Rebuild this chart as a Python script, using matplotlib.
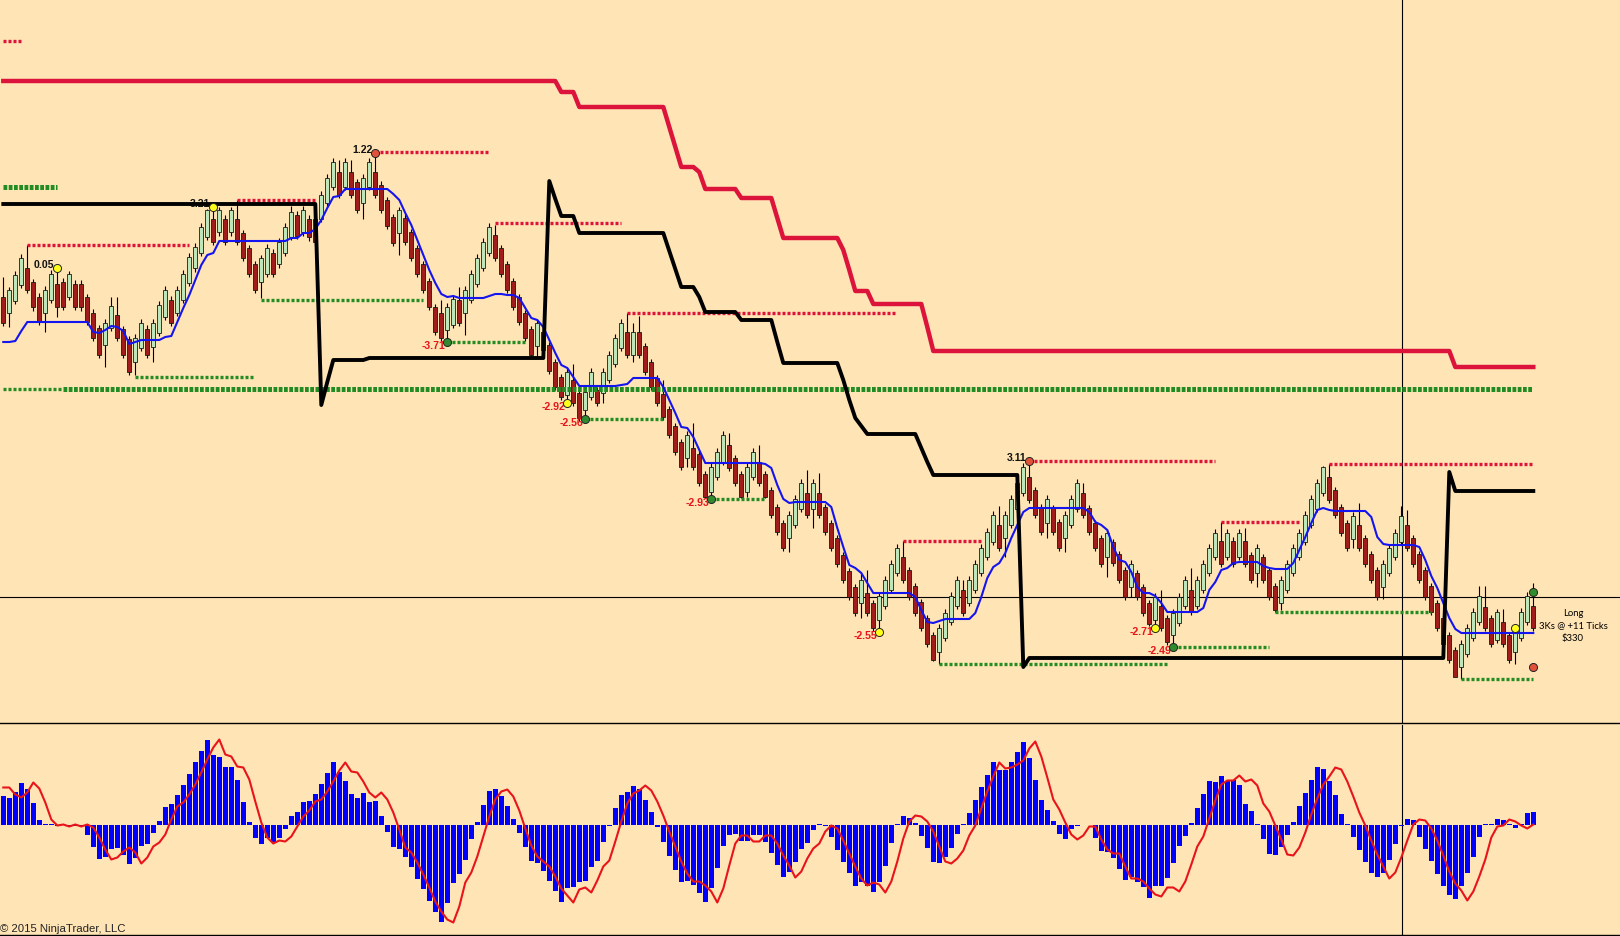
import numpy as np
import matplotlib
matplotlib.use('Agg')
import matplotlib.pyplot as plt

# price panel values are read straight off the chart, y grows downward
opens = [
    297, 313, 301, 285, 268, 282, 297, 313, 300, 284, 282, 297, 284, 284, 297, 313,
    328, 345, 328, 315, 329, 339, 362, 348, 329, 347, 333, 317, 300, 313, 300, 283,
    268, 253, 237, 219, 232, 219, 232, 219, 233, 248, 264, 282, 274, 253, 264, 253,
    237, 215, 232, 219, 219, 219, 203, 187, 172, 187, 172, 182, 203, 187, 172, 185,
    200, 217, 233, 218, 232, 248, 264, 281, 307, 313, 330, 325, 300, 313, 300, 284,
    268, 253, 235, 248, 264, 281, 297, 313, 329, 346, 332, 345, 362, 377, 395, 380,
    393, 410, 397, 390, 393, 380, 364, 348, 332, 355, 332, 346, 362, 378, 394, 409,
    426, 442, 458, 448, 454, 474, 492, 477, 462, 445, 458, 474, 492, 477, 462, 474,
    490, 507, 523, 538, 525, 509, 493, 509, 493, 507, 523, 538, 555, 571, 587, 603,
    593, 603, 620, 606, 590, 573, 557, 570, 586, 602, 618, 635, 652, 638, 622, 606,
    590, 603, 590, 573, 557, 542, 525, 538, 525, 509, 493, 477, 490, 507, 523, 508,
    522, 538, 525, 509, 493, 508, 523, 538, 557, 542, 554, 570, 587, 573, 587, 603,
    620, 606, 618, 635, 623, 606, 590, 606, 590, 573, 557, 541, 557, 541, 557, 541,
    555, 573, 557, 570, 586, 603, 590, 573, 557, 542, 525, 509, 493, 477, 490, 507,
    523, 539, 525, 538, 554, 570, 587, 573, 557, 542, 525, 538, 554, 570, 586, 603,
    618, 635, 650, 667, 654, 638, 622, 607, 618, 640, 622, 635, 652, 638, 622, 606,
]
highs = [
    277, 287, 271, 254, 245, 279, 293, 286, 270, 268, 278, 271, 280, 280, 294, 309,
    325, 319, 297, 297, 326, 336, 334, 319, 325, 319, 301, 286, 296, 286, 270, 253,
    243, 223, 209, 207, 207, 215, 207, 200, 230, 245, 261, 255, 244, 249, 238, 223,
    206, 211, 206, 215, 215, 191, 174, 158, 160, 158, 160, 179, 174, 158, 153, 181,
    197, 214, 207, 214, 229, 245, 261, 278, 304, 300, 303, 295, 287, 286, 270, 254,
    238, 223, 225, 245, 261, 278, 294, 310, 326, 319, 328, 342, 359, 374, 368, 364,
    390, 388, 368, 387, 368, 351, 334, 319, 313, 323, 316, 343, 359, 375, 380, 406,
    423, 439, 431, 423, 451, 471, 463, 448, 431, 433, 455, 471, 463, 448, 445, 471,
    487, 504, 520, 511, 495, 479, 470, 479, 473, 504, 520, 535, 552, 568, 584, 573,
    570, 600, 592, 576, 560, 544, 541, 567, 583, 599, 615, 632, 624, 609, 592, 576,
    580, 576, 560, 544, 528, 511, 506, 511, 495, 479, 463, 461, 487, 504, 495, 505,
    519, 511, 495, 479, 483, 505, 520, 535, 529, 539, 551, 567, 560, 570, 584, 600,
    593, 590, 615, 609, 593, 576, 568, 576, 560, 544, 529, 522, 529, 537, 529, 528,
    552, 544, 554, 567, 583, 576, 560, 544, 529, 511, 495, 479, 466, 464, 487, 504,
    520, 512, 503, 535, 551, 567, 560, 544, 529, 506, 510, 535, 551, 567, 583, 600,
    615, 632, 647, 640, 624, 608, 586, 586, 615, 609, 609, 632, 624, 608, 592, 583,
]
lows = [
    326, 327, 304, 288, 293, 311, 325, 332, 303, 317, 310, 300, 310, 311, 325, 341,
    358, 367, 331, 341, 358, 375, 375, 351, 358, 362, 336, 320, 326, 316, 303, 286,
    272, 256, 240, 245, 236, 245, 236, 245, 261, 277, 293, 298, 277, 277, 268, 256,
    240, 239, 236, 241, 246, 222, 206, 190, 198, 190, 198, 213, 219, 190, 198, 213,
    229, 246, 255, 245, 261, 277, 293, 310, 335, 341, 342, 328, 326, 335, 303, 287,
    271, 256, 261, 277, 293, 310, 325, 341, 358, 356, 353, 374, 390, 400, 403, 406,
    421, 419, 400, 406, 403, 383, 367, 351, 358, 362, 358, 375, 390, 406, 420, 438,
    455, 470, 467, 470, 486, 498, 499, 480, 465, 471, 486, 498, 497, 480, 486, 498,
    518, 535, 551, 552, 528, 512, 518, 528, 518, 535, 551, 567, 583, 600, 616, 618,
    616, 631, 632, 609, 593, 576, 583, 600, 616, 631, 647, 661, 664, 641, 625, 609,
    616, 606, 593, 576, 560, 545, 551, 557, 528, 512, 496, 503, 518, 535, 538, 535,
    551, 552, 528, 512, 518, 535, 551, 567, 577, 566, 583, 600, 597, 600, 616, 626,
    628, 631, 645, 647, 626, 609, 615, 609, 593, 576, 560, 567, 560, 567, 560, 567,
    583, 587, 583, 600, 612, 610, 593, 576, 560, 545, 528, 512, 496, 503, 518, 536,
    551, 548, 551, 567, 583, 600, 599, 576, 560, 545, 551, 567, 583, 600, 615, 631,
    647, 663, 676, 679, 657, 641, 625, 631, 647, 643, 647, 663, 664, 641, 625, 631,
]
closes = [
    323, 290, 275, 258, 290, 307, 322, 290, 274, 307, 307, 274, 307, 307, 322, 338,
    355, 323, 306, 338, 355, 372, 338, 323, 355, 323, 305, 290, 323, 290, 274, 257,
    247, 227, 210, 242, 210, 242, 210, 242, 258, 274, 290, 258, 248, 274, 242, 227,
    212, 236, 210, 237, 242, 195, 178, 162, 195, 162, 195, 210, 178, 162, 195, 210,
    226, 243, 210, 242, 258, 274, 290, 307, 332, 338, 307, 299, 323, 290, 274, 258,
    242, 227, 258, 274, 290, 307, 322, 338, 355, 323, 350, 371, 387, 397, 372, 403,
    418, 392, 372, 403, 372, 355, 338, 323, 355, 332, 355, 372, 387, 403, 417, 435,
    452, 467, 435, 467, 483, 497, 467, 452, 435, 468, 483, 497, 467, 452, 483, 497,
    515, 532, 548, 515, 499, 483, 515, 483, 515, 532, 548, 564, 580, 597, 613, 580,
    613, 628, 596, 580, 564, 548, 580, 597, 613, 628, 644, 660, 628, 613, 596, 580,
    613, 580, 564, 548, 532, 515, 548, 515, 499, 483, 467, 500, 515, 532, 499, 532,
    548, 515, 499, 483, 515, 532, 548, 564, 533, 563, 580, 597, 564, 597, 613, 624,
    597, 628, 642, 613, 597, 580, 612, 580, 564, 548, 533, 564, 533, 564, 533, 564,
    580, 548, 580, 597, 610, 580, 564, 548, 533, 515, 499, 483, 467, 500, 515, 533,
    548, 516, 548, 564, 580, 597, 564, 548, 533, 516, 548, 564, 580, 597, 612, 628,
    644, 660, 677, 644, 628, 612, 596, 628, 644, 612, 644, 660, 628, 612, 596, 628,
]

# blue moving average
avg_line = [
    342, 342, 341, 331, 322, 322, 322, 322, 322, 322, 322, 322, 322, 322, 322, 332,
    333, 330, 326, 327, 331, 344, 342, 340, 340, 340, 340, 337, 336, 322, 308, 295,
    280, 265, 255, 253, 241, 241, 241, 241, 241, 241, 241, 241, 241, 241, 241, 241,
    238, 238, 233, 233, 229, 220, 208, 197, 196, 189, 189, 189, 189, 189, 189, 189,
    189, 194, 200, 213, 225, 240, 255, 270, 283, 294, 297, 296, 298, 298, 298, 298,
    298, 296, 294, 294, 295, 295, 298, 308, 318, 320, 327, 340, 353, 365, 368, 377,
    386, 386, 386, 386, 386, 386, 386, 385, 384, 378, 378, 378, 378, 378, 387, 400,
    413, 427, 428, 437, 450, 463, 463, 463, 463, 463, 463, 463, 463, 463, 463, 464,
    468, 485, 499, 503, 502, 502, 502, 502, 502, 502, 507, 528, 547, 565, 568, 573,
    583, 593, 593, 593, 593, 593, 593, 593, 597, 610, 622, 623, 621, 619, 619, 619,
    619, 619, 613, 597, 578, 567, 563, 553, 538, 525, 512, 508, 508, 508, 508, 508,
    508, 508, 508, 508, 508, 512, 522, 525, 530, 547, 560, 562, 572, 587, 593, 593,
    596, 603, 612, 612, 612, 612, 612, 612, 608, 590, 582, 570, 568, 563, 562, 562,
    562, 562, 566, 568, 569, 569, 569, 563, 550, 537, 523, 510, 508, 510, 511, 511,
    511, 511, 511, 511, 517, 537, 544, 545, 545, 545, 545, 545, 547, 560, 576, 588,
    603, 618, 629, 633, 633, 633, 633, 633, 633, 633, 633, 633, 633, 633, 633, 633,
]

# black trailing stop and red outer stop, one value per bar
stop_black = ([204] * 53 + [405, 382] + [360] * 6 + [358] * 30
              + [181, 199] + [216] * 3 + [233] * 15 + [251, 269] + [287] * 3
              + [297] + [312] * 6 + [320] * 6 + [342] + [363] * 10
              + [380, 400, 418, 426] + [434] * 9 + [448, 462] + [475] * 15
              + [667] + [658] * 70 + [472] + [491] * 14)
stop_red = ([81] * 93 + [92] * 3 + [107] * 15 + [127, 147] + [167] * 3
            + [172] + [189] * 6 + [198] * 6 + [218] + [238] * 10 + [250, 270]
            + [291] * 3 + [304] * 9 + [327] + [351] * 87 + [367] * 14)

# swing levels: (first bar, last bar, level)
high_levels = [(0, 3, 41), (4, 31, 245), (39, 52, 200), (62, 81, 152),
               (82, 103, 223), (104, 149, 313), (150, 163, 541),
               (171, 202, 461), (203, 216, 522), (221, 255, 464)]
low_levels = [(22, 42, 377), (43, 70, 300), (74, 87, 342), (97, 110, 419),
              (118, 127, 499), (156, 194, 664), (195, 211, 647),
              (212, 238, 612), (243, 255, 679), (0, 10, 389)]
low_levels_thick = [(0, 9, 187), (10, 255, 389)]

# pivot markers
pivot_idx = [9, 35, 62, 74, 94, 97, 118, 146, 171, 192, 195]
pivot_y = [268, 207, 153, 342, 403, 419, 499, 632, 461, 628, 647]
pivot_text = ['0.05', '3.21', '1.22', '-3.71', '-2.92', '-2.56', '-2.93',
              '-2.55', '3.11', '-2.71', '-2.49']
pivot_kind = ['y', 'y', 'r', 'g', 'y', 'g', 'g', 'y', 'r', 'y', 'g']
extra_idx = [252, 255, 255]
extra_y = [628, 592, 667]
extra_kind = ['y', 'g', 'r']

# lower panel: histogram and signal
hist = [
    29, 27, 33, 42, 36, 22, 5, 0.5, 0.5, -1, -0.3, -1.5, -1, -1.5, -10, -22,
    -34, -32, -24, -23, -30, -39, -33, -21, -19, -8, 4, 18, 21, 30, 40, 51,
    63, 74, 85, 70, 68, 58, 58, 45, 23, 3, -13, -19, -13, -17, -13, -4,
    9, 13, 23, 24, 31, 41, 52, 63, 53, 44, 31, 27, 32, 23, 24, 9,
    -7, -22, -24, -32, -42, -54, -64, -76, -87, -97, -78, -58, -49, -35, -14, 3,
    20, 34, 36, 29, 19, 6, -8, -22, -36, -38, -46, -56, -66, -77, -63, -62,
    -57, -56, -42, -36, -17, -1, 17, 30, 33, 39, 36, 25, 13, -2, -17, -31,
    -45, -57, -56, -60, -68, -77, -63, -43, -21, -10, -9, -16, -16, -10, -10, -17,
    -28, -40, -52, -47, -37, -24, -18, -5, 0.5, -1, -12, -25, -37, -48, -61, -57,
    -61, -67, -57, -41, -18, 0.5, 9, 7, 2, -11, -23, -37, -38, -32, -23, -9,
    0.5, 12, 25, 38, 50, 63, 55, 55, 63, 73, 83, 67, 45, 25, 15, 4,
    -9, -14, -4, -1, -0.5, -0.5, -13, -26, -27, -33, -44, -55, -52, -57, -62, -73,
    -61, -61, -53, -38, -21, -11, 2, 17, 31, 44, 43, 49, 44, 45, 40, 21,
    14, 0.5, -14, -29, -30, -22, -10, 3, 19, 32, 45, 58, 56, 44, 30, 11,
    0.5, -12, -25, -37, -48, -52, -48, -35, -19, -1, 6, 5, -12, -24, -36, -49,
    -61, -70, -74, -61, -48, -32, -12, 0.3, 0.3, 6, 5, 1, -3, 1, 12, 13,
]
signal = [
    37, 37, 30, 27, 32, 42, 36, 22, 5, -1, 0, -2, 0, -2, 0, -3,
    -13, -25, -35, -33, -27, -23, -28, -39, -33, -22, -18, -10, 5, 18, 22, 30,
    40, 52, 65, 77, 85, 70, 68, 58, 57, 45, 23, 2, -13, -19, -16, -17,
    -12, -2, 8, 14, 23, 25, 33, 43, 54, 62, 53, 52, 43, 32, 27, 32,
    25, 12, -5, -23, -28, -38, -50, -63, -77, -87, -95, -98, -82, -58, -48, -32,
    -12, 8, 25, 33, 35, 28, 14, -4, -21, -32, -37, -42, -52, -64, -71, -78,
    -65, -63, -68, -56, -42, -36, -17, 3, 21, 31, 34, 39, 34, 23, 9, -7,
    -22, -37, -49, -57, -57, -61, -67, -78, -64, -41, -19, -11, -11, -17, -17, -11,
    -11, -19, -31, -41, -53, -47, -34, -24, -19, -7, -1, -4, -16, -29, -42, -54,
    -61, -58, -60, -68, -57, -37, -14, 3, 9, 8, 3, -7, -22, -37, -39, -34,
    -26, -11, -1, 16, 33, 48, 62, 56, 57, 60, 64, 76, 83, 68, 47, 25,
    15, 2, -10, -15, -11, -2, -2, -15, -25, -29, -29, -42, -54, -54, -57, -64,
    -70, -72, -63, -63, -67, -57, -40, -22, -12, 6, 24, 40, 44, 44, 49, 43,
    45, 39, 21, 13, -1, -15, -30, -31, -23, -8, 10, 26, 40, 48, 57, 55,
    43, 28, 12, -1, -16, -30, -42, -54, -48, -33, -16, 0, 5, 4, -4, -16,
    -31, -47, -59, -66, -76, -67, -52, -35, -13, -2, -1, 5, 3, -1, -4, 0,
]

cross_bar = 233.1
cross_level = 597
trade_text = ['Long', '3Ks @ +11 Ticks', '$330']

BG = '#FFE4B5'
BULL = '#BDE6BD'
BEAR = '#A11D1D'
RED = '#DC143C'
GREEN = '#228B22'
DOT = {'y': '#FFFF1A', 'g': '#2E8B2E', 'r': '#E0533A'}

o = np.array(opens, float)
h = np.array(highs, float)
l = np.array(lows, float)
c = np.array(closes, float)
x = np.arange(len(o))

fig = plt.figure(figsize=(16.2, 9.36), dpi=100, facecolor=BG)
ax = fig.add_axes([0, 213 / 936, 1, 723 / 936], facecolor=BG)
ax2 = fig.add_axes([0, 1 / 936, 1, 210 / 936], facecolor=BG)

for a in (ax, ax2):
    a.set_xlim(-0.55, 269.45)
    a.set_xticks([])
    a.set_yticks([])
    for s in ('top', 'left', 'right'):
        a.spines[s].set_visible(False)
    a.spines['bottom'].set_linewidth(1.0)
    a.spines['bottom'].set_color('black')
ax.set_ylim(723, 0)
ax2.set_ylim(-110.5, 99.5)

# crosshair
ax.axhline(cross_level, color='black', lw=0.8, zorder=1)
ax.axvline(cross_bar, color='black', lw=0.8, zorder=1)
ax2.axvline(cross_bar, color='black', lw=0.8, zorder=1)

# candles
bull = c < o
ax.vlines(x, h, l, color='black', lw=0.8, zorder=2)
ax.bar(x, np.abs(c - o), bottom=np.minimum(o, c), width=0.64,
       color=np.where(bull, BULL, BEAR), edgecolor='#1a1a1a',
       linewidth=0.6, zorder=2.5)

# swing levels
for s, e, lv in high_levels:
    ax.plot([s, e], [lv, lv], color=RED, lw=2.4, ls=(0, (0.9, 0.6)),
            dash_capstyle='butt', zorder=3)
for s, e, lv in low_levels:
    ax.plot([s, e], [lv, lv], color=GREEN, lw=2.4, ls=(0, (0.9, 0.6)),
            dash_capstyle='butt', zorder=3)
for s, e, lv in low_levels_thick:
    ax.plot([s, e], [lv, lv], color=GREEN, lw=3.6, ls=(0, (0.75, 0.3)),
            dash_capstyle='butt', zorder=3.1)

ax.plot(x, avg_line, color='#1414F0', lw=1.5, zorder=4)
ax.plot(x, stop_red, color=RED, lw=3.2, zorder=5)
ax.plot(x, stop_black, color='black', lw=2.8, zorder=5)

# pivot labels
for i, yv, t, k in zip(pivot_idx, pivot_y, pivot_text, pivot_kind):
    neg = t.startswith('-')
    ax.annotate(t, (i, yv), xytext=(-1.5, -3) if neg else (-2, 2.5),
                textcoords='offset points', ha='right', va='center',
                fontsize=7.6, fontweight='bold', family='Liberation Sans',
                color='#E8141A' if neg else '#111111', zorder=4.5)
    ax.plot(i, yv, 'o', ms=5.8, mfc=DOT[k], mec='#222222', mew=0.7, zorder=6)
for i, yv, k in zip(extra_idx, extra_y, extra_kind):
    ax.plot(i, yv, 'o', ms=5.8, mfc=DOT[k], mec='#222222', mew=0.7, zorder=6)

for j, t in enumerate(trade_text):
    ax.text(261.6, 613 + 12.5 * j, t, ha='center', va='center', fontsize=6.8,
            family='Lato', color='black', zorder=7)

# lower panel
ax2.bar(x, hist, width=0.8, color='#0000FF', zorder=2)
ax2.plot(x, signal, color='#E8141A', lw=1.5, zorder=3)

fig.text(0.5 / 1620, 7 / 936, '\u00a9 2015 NinjaTrader, LLC', fontsize=8.2,
         family='Liberation Sans', color='#222222', ha='left', va='center')

fig.savefig('out.png', dpi=100, facecolor=BG)
